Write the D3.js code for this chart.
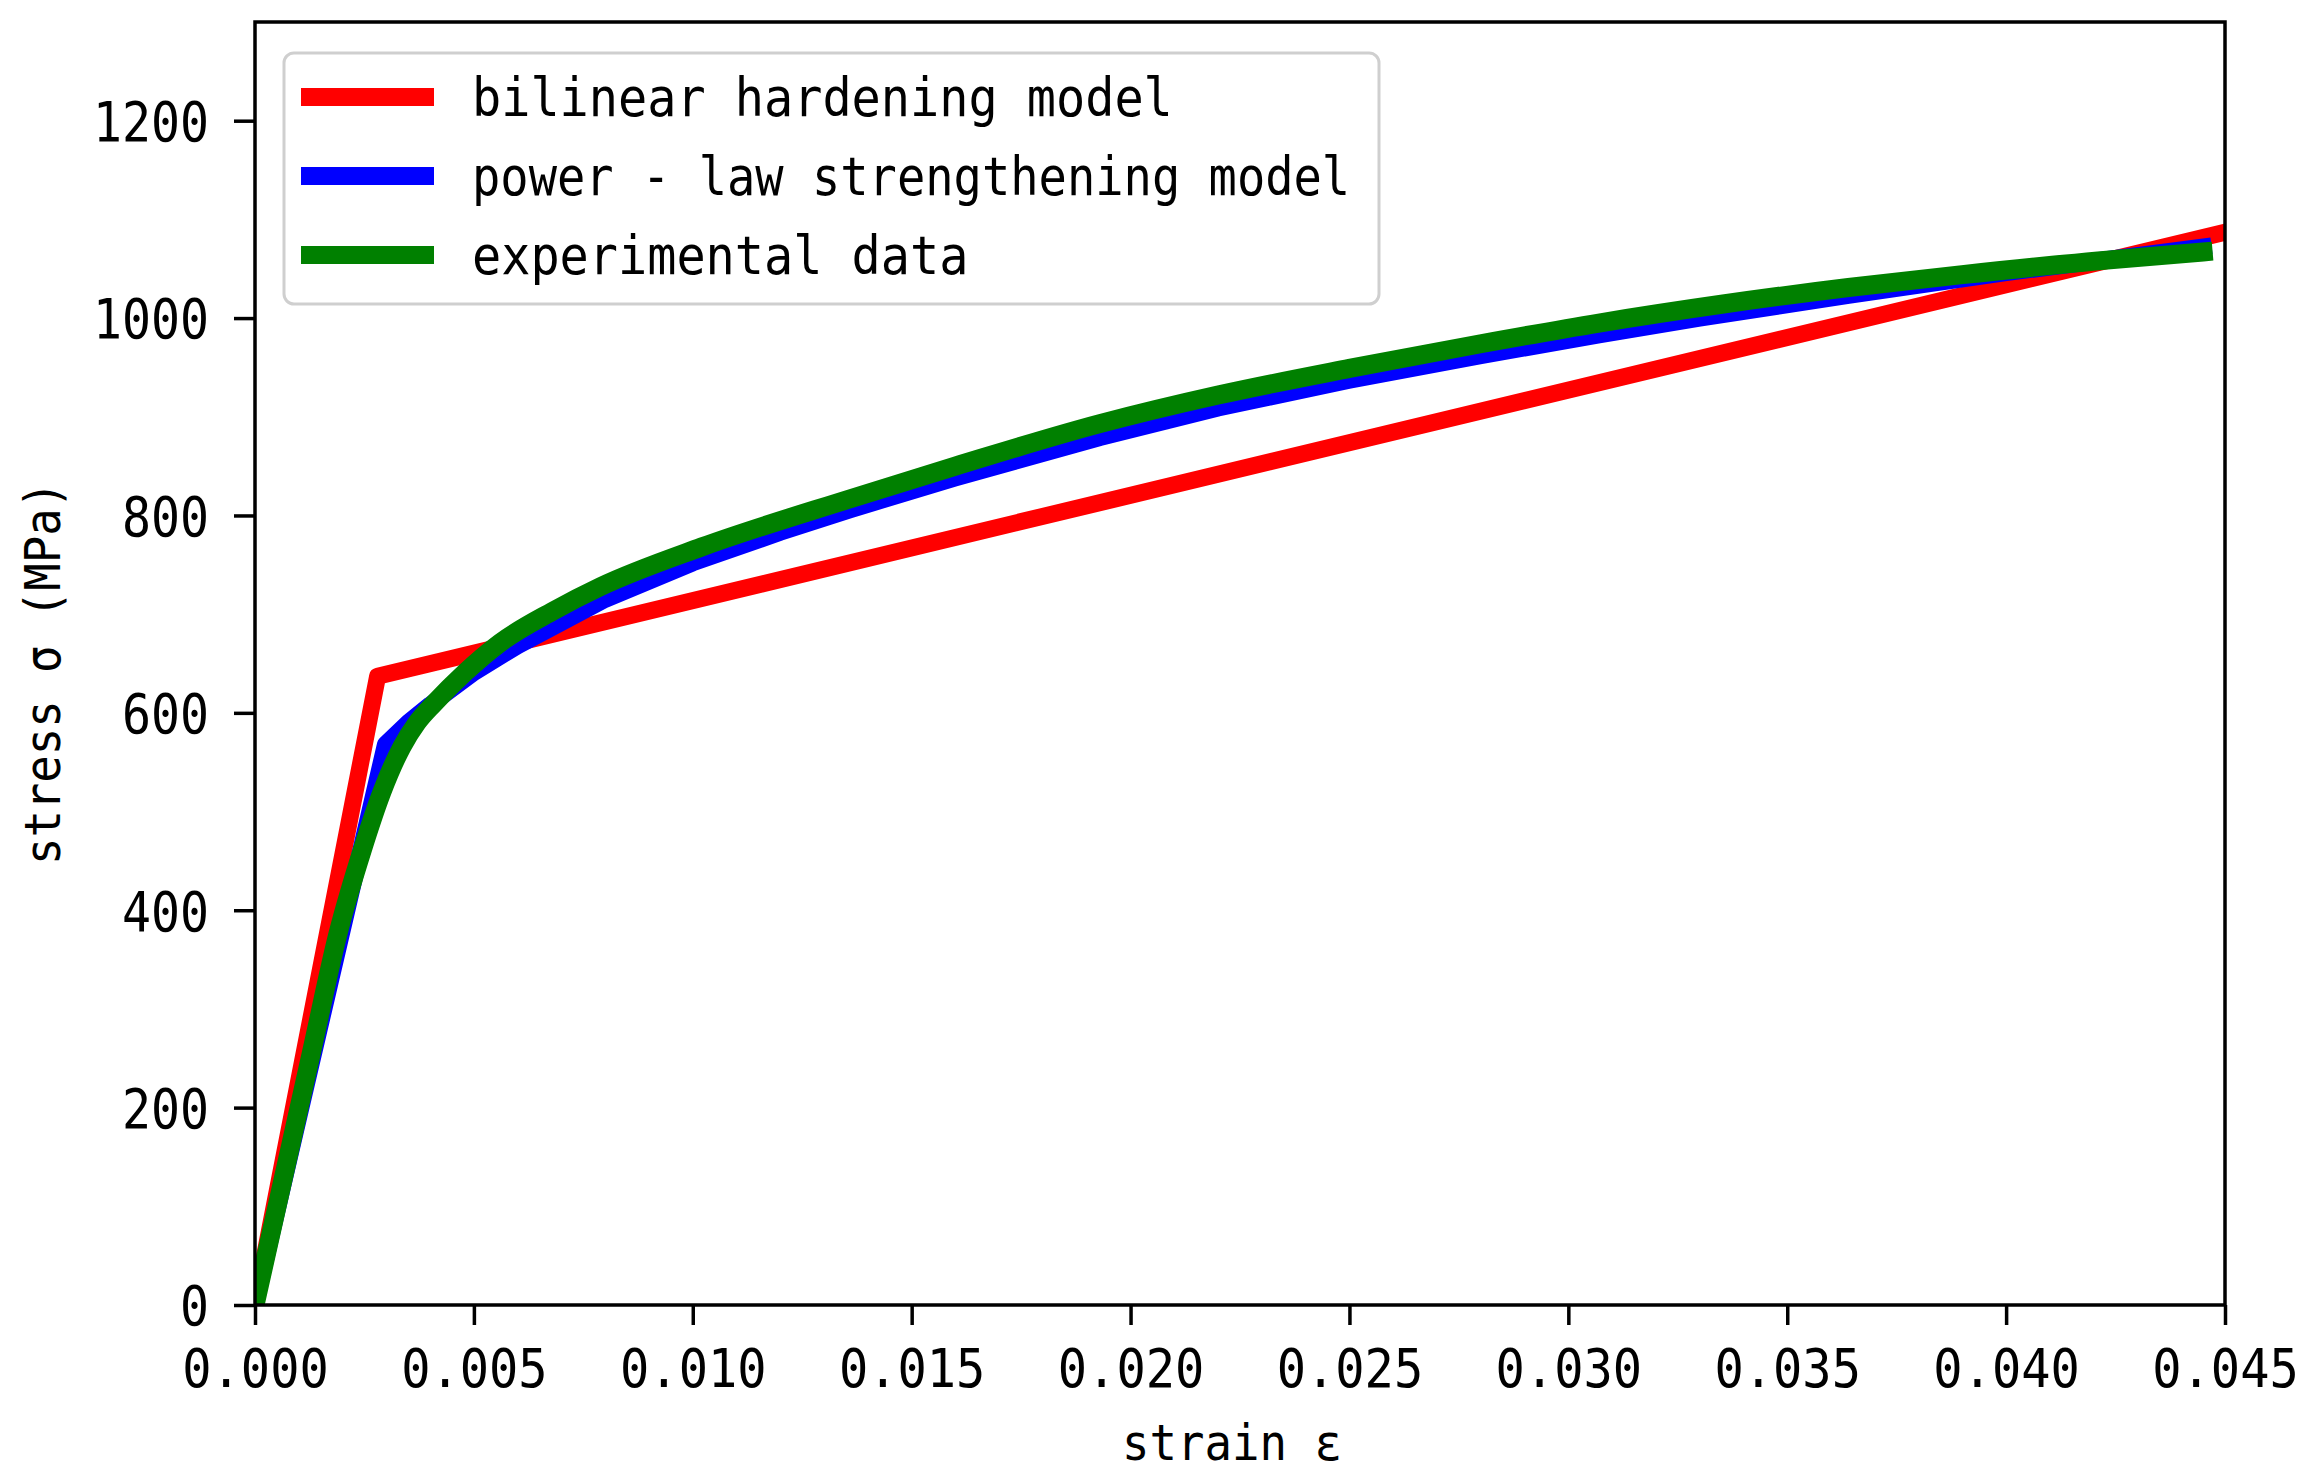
<!DOCTYPE html>
<html>
<head>
<meta charset="utf-8">
<script src="https://cdn.jsdelivr.net/npm/d3@7"></script>
<style>
  html, body { margin: 0; padding: 0; background: #ffffff; overflow: hidden; }
  svg { display: block; }
</style>
</head>
<body>
<svg id="chart" width="2314" height="1477"></svg>
<script>
// ---------------- data ----------------
const seriesNames = ["bilinear hardening model", "power - law strengthening model", "experimental data"];
const seriesColors = ["#ff0000", "#0000ff", "#008000"];

const bilinearStrain = [0, 0.0028, 0.045];
const bilinearStress = [0, 637, 1087];

const powerStrain = [0, 0.00298, 0.0035, 0.004, 0.005, 0.006, 0.008, 0.010, 0.012, 0.0136, 0.016, 0.0193, 0.022, 0.025, 0.028, 0.0307, 0.033, 0.0364, 0.040, 0.0445];
const powerStress = [0, 568, 590, 608, 641, 668, 715, 752, 783, 806, 838, 879, 909, 937, 962, 983, 1000, 1023, 1046, 1072];

const experimentalStrain = [0, 0.0013, 0.0019, 0.00245, 0.0029, 0.00336, 0.0037, 0.0041, 0.0048, 0.0056, 0.0068, 0.0079, 0.0102, 0.0136, 0.016, 0.0193, 0.022, 0.025, 0.028, 0.0307, 0.0335, 0.0364, 0.039, 0.0421, 0.0445];
const experimentalStress = [0, 258, 377, 461, 520, 566, 590, 610, 641, 671, 703, 728, 768, 817, 850, 893, 922, 949, 974, 995, 1014, 1031, 1044, 1058, 1067];

const xTicks = [0, 0.005, 0.010, 0.015, 0.020, 0.025, 0.030, 0.035, 0.040, 0.045];
const yTicks = [0, 200, 400, 600, 800, 1000, 1200];
const xDomain = [0, 0.045];
const yDomain = [0, 1300];
const xLabel = "strain ε";
const yLabel = "stress σ (MPa)";

// ---------------- layout ----------------
const margin = { left: 255, right: 2314 - 2225, top: 22, bottom: 1477 - 1305 };
const W = 2314, H = 1477;
const plotW = W - margin.left - margin.right;
const plotH = H - margin.top - margin.bottom;
const FONT = "'DejaVu Sans Mono', 'Liberation Mono', monospace";
const lineWidths = [17, 17, 19];

const svg = d3.select("#chart");
const x = d3.scaleLinear().domain(xDomain).range([margin.left, margin.left + plotW]);
const y = d3.scaleLinear().domain(yDomain).range([margin.top + plotH, margin.top]);

svg.append("defs").append("clipPath").attr("id", "plotclip")
  .append("rect").attr("x", margin.left).attr("y", margin.top)
  .attr("width", plotW).attr("height", plotH);

// ---------------- lines ----------------
function zip(xs, ys) { return xs.map((v, i) => [v, ys[i]]); }
const series = [
  { pts: zip(bilinearStrain, bilinearStress), curve: d3.curveLinear },
  { pts: zip(powerStrain, powerStress), curve: d3.curveLinear },
  { pts: zip(experimentalStrain, experimentalStress), curve: d3.curveMonotoneX }
];

const gLines = svg.append("g").attr("clip-path", "url(#plotclip)");
series.forEach((s, i) => {
  const line = d3.line().x(d => x(d[0])).y(d => y(d[1])).curve(s.curve);
  gLines.append("path")
    .attr("d", line(s.pts))
    .attr("fill", "none")
    .attr("stroke", seriesColors[i])
    .attr("stroke-width", lineWidths[i])
    .attr("stroke-linecap", "square")
    .attr("stroke-linejoin", "round");
});

// ---------------- axes ----------------
const fmtX = d3.format(".3f");
const xAxis = d3.axisBottom(x).tickValues(xTicks).tickFormat(fmtX).tickSize(20).tickSizeOuter(0).tickPadding(10);
const yAxis = d3.axisLeft(y).tickValues(yTicks).tickFormat(d3.format("d")).tickSize(21).tickSizeOuter(0).tickPadding(25);

const gx = svg.append("g").attr("transform", `translate(0,${margin.top + plotH})`).call(xAxis);
const gy = svg.append("g").attr("transform", `translate(${margin.left},0)`).call(yAxis);

[gx, gy].forEach(g => {
  g.select(".domain").remove();
  g.selectAll(".tick line").attr("stroke", "#000").attr("stroke-width", 3.5);
  g.selectAll(".tick text").attr("fill", "#000").attr("font-family", FONT);
});
gx.selectAll(".tick text")
  .attr("font-size", 53)
  .attr("y", 82).attr("dy", null)
  .attr("lengthAdjust", "spacingAndGlyphs")
  .attr("textLength", function () { return this.textContent.length * 29.3; });
gy.selectAll(".tick text")
  .attr("font-size", 55)
  .attr("dy", "0.36em")
  .attr("lengthAdjust", "spacingAndGlyphs")
  .attr("textLength", function () { return this.textContent.length * 29; });

// frame (spines)
svg.append("rect")
  .attr("x", margin.left).attr("y", margin.top)
  .attr("width", plotW).attr("height", plotH)
  .attr("fill", "none").attr("stroke", "#000").attr("stroke-width", 3.5);

// axis labels
svg.append("text")
  .attr("x", margin.left + plotW / 2 - 8).attr("y", 1460)
  .attr("text-anchor", "middle")
  .attr("font-family", FONT).attr("font-size", 50).attr("fill", "#000")
  .attr("lengthAdjust", "spacingAndGlyphs").attr("textLength", 220)
  .text(xLabel);

svg.append("text")
  .attr("transform", "translate(60,673) rotate(-90)")
  .attr("text-anchor", "middle")
  .attr("font-family", FONT).attr("font-size", 50).attr("fill", "#000")
  .attr("lengthAdjust", "spacingAndGlyphs").attr("textLength", 384)
  .text(yLabel);

// ---------------- legend ----------------
const lg = svg.append("g");
lg.append("rect")
  .attr("x", 284).attr("y", 53).attr("width", 1095).attr("height", 251)
  .attr("rx", 10).attr("ry", 10)
  .attr("fill", "#ffffff").attr("fill-opacity", 0.8)
  .attr("stroke", "#cfcfcf").attr("stroke-width", 3);

const legendRowY = [97, 176, 255];
seriesNames.forEach((name, i) => {
  lg.append("line")
    .attr("x1", 301).attr("x2", 434)
    .attr("y1", legendRowY[i]).attr("y2", legendRowY[i])
    .attr("stroke", seriesColors[i]).attr("stroke-width", 18);
  lg.append("text")
    .attr("x", 472).attr("y", legendRowY[i] + 19)
    .attr("font-family", FONT).attr("font-size", 54).attr("fill", "#000")
    .attr("lengthAdjust", "spacingAndGlyphs")
    .attr("textLength", name.length * 29.2 - (i === 1 ? 27 : 0))
    .text(name);
});
</script>
</body>
</html>
